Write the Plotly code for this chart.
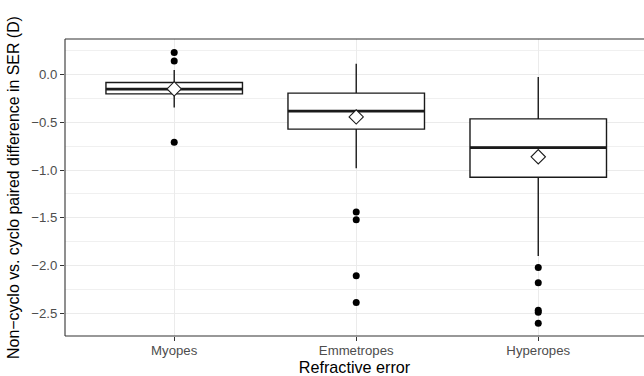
import plotly.graph_objects as go

categories = ["Myopes", "Emmetropes", "Hyperopes"]
q1 = [-0.200, -0.570, -1.074]
median = [-0.150, -0.381, -0.763]
q3 = [-0.081, -0.192, -0.462]
lower_whisker = [-0.343, -0.979, -1.900]
upper_whisker = [0.050, 0.115, -0.024]
means = [-0.148, -0.442, -0.860]
outliers_myopes = [0.234, 0.144, -0.708]
outliers_emmetropes = [-1.44, -1.52, -2.106, -2.389]
outliers_hyperopes = [-2.02, -2.18, -2.47, -2.49, -2.606]

xpos = [i + 1 for i in range(len(categories))]
box_w = 0.75
ink = "#1A1A1A"
border = "#333333"

fig = go.Figure()

fig.add_trace(go.Box(
    x=xpos, q1=q1, median=median, q3=q3,
    lowerfence=lower_whisker, upperfence=upper_whisker,
    width=box_w, boxpoints=False, whiskerwidth=0,
    fillcolor="white", line=dict(color=ink, width=1.4),
    hoverinfo="skip",
))

# thicker median lines (ggplot fatten)
mx, my = [], []
for p, m in zip(xpos, median):
    mx += [p - box_w / 2, p + box_w / 2, None]
    my += [m, m, None]
fig.add_trace(go.Scatter(x=mx, y=my, mode="lines",
                         line=dict(color=ink, width=2.8), hoverinfo="skip"))

# outliers
ox, oy = [], []
for p, arr in zip(xpos, [outliers_myopes, outliers_emmetropes, outliers_hyperopes]):
    ox += [p] * len(arr)
    oy += arr
fig.add_trace(go.Scatter(x=ox, y=oy, mode="markers",
                         marker=dict(color="black", size=7), hoverinfo="skip"))

# means
fig.add_trace(go.Scatter(x=xpos, y=means, mode="markers",
                         marker=dict(symbol="diamond", size=11, color="white",
                                     line=dict(color=ink, width=1.1)),
                         hoverinfo="skip"))

# panel border: top, left, bottom (right edge lies outside the window)
for (x0, y0, x1, y1) in [(0, 1, 1, 1), (0, 0, 0, 1), (0, 0, 1, 0)]:
    fig.add_shape(type="line", xref="paper", yref="paper",
                  x0=x0, y0=y0, x1=x1, y1=y1,
                  line=dict(color=border, width=1.1), layer="above")

font_family = "Liberation Sans, Arial, Helvetica, sans-serif"
fig.update_layout(
    width=644, height=376,
    margin=dict(l=65, r=0, t=39, b=40),
    paper_bgcolor="white", plot_bgcolor="white",
    showlegend=False,
    font=dict(family=font_family, color="black"),
    xaxis=dict(
        range=[0.4, 3.581],
        tickvals=xpos, ticktext=categories,
        showgrid=True, gridcolor="#EBEBEB", gridwidth=1,
        zeroline=False, showline=False,
        ticks="outside", ticklen=4, tickcolor=border, tickwidth=1,
        ticklabelstandoff=-2,
        tickfont=dict(size=13.2, color="#4D4D4D"),
        title=dict(text="Refractive error", font=dict(size=16.2, color="black"), standoff=3),
    ),
    yaxis=dict(
        range=[-2.739, 0.375],
        tick0=0, dtick=0.5, tickformat=".1f",
        showgrid=True, gridcolor="#EBEBEB", gridwidth=1,
        zeroline=False, showline=False,
        ticks="outside", ticklen=4, tickcolor=border, tickwidth=1,
        tickfont=dict(size=13.2, color="#4D4D4D"),
        minor=dict(dtick=0.25, tick0=0, showgrid=True, gridcolor="#F0F0F0", gridwidth=0.8, ticks=""),
        title=dict(text="Non\u2212cyclo vs. cyclo paired difference in SER (D)",
                   font=dict(size=15.9, color="black"), standoff=7),
    ),
)

fig.write_html(
    "out.html",
    config={"displayModeBar": False},
    post_script="document.documentElement.style.overflow='hidden';"
                "document.body.style.overflow='hidden';document.body.style.margin='0';",
)
